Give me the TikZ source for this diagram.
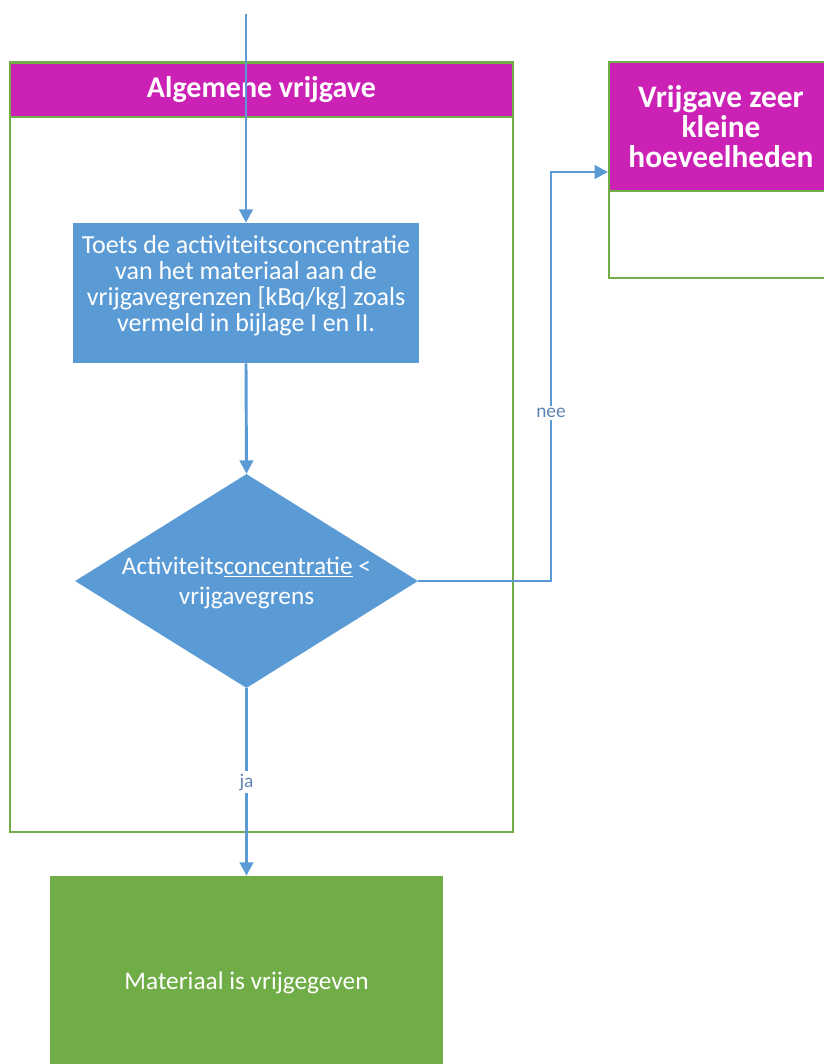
\documentclass[tikz,border=0pt]{standalone}
\usepackage{fontspec}
\setmainfont{Carlito}
\usetikzlibrary{arrows.meta,shapes.geometric}
\definecolor{hdr}{HTML}{CB22B5}
\definecolor{flow}{HTML}{5B9BD5}
\definecolor{okgreen}{HTML}{70AD47}
\definecolor{lbl}{HTML}{5F85B5}
\tikzset{
  frame/.style={draw=okgreen,line width=1.5pt,fill=white,inner sep=0pt},
  header/.style={fill=hdr,draw=okgreen,line width=1.5pt,text=white,font=\bfseries,align=center,inner sep=0pt},
  stepbox/.style={fill=flow,text=white,align=center,inner sep=0pt},
  decide/.style={diamond,fill=flow,inner sep=0pt,aspect=1.6},
  endbox/.style={fill=okgreen,text=white,align=center,inner sep=0pt},
  arr/.style={draw=flow,line width=2.2pt,-{Triangle[width=10pt,length=10pt]}},
  flowlabel/.style={fill=white,text=lbl,inner sep=2pt,font=\fontsize{14.5}{16}\selectfont},
}
\begin{document}
\begin{tikzpicture}[x=0.75pt,y=-0.75pt]
\useasboundingbox (0,0) rectangle (824,1064);

% containers
\node[frame,minimum width=377.25pt,minimum height=577.5pt] (lbody) at (261.5,447) {};
\node[header,minimum width=377.25pt,minimum height=40.5pt,font=\bfseries\fontsize{22.5}{24}\selectfont] (lhead) at (261.5,90) {Algemene vrijgave};
\node[frame,minimum width=168pt,minimum height=162pt] (rbody) at (721,170) {};
\node[header,minimum width=168pt,minimum height=96.75pt] (rhead) at (721,126.5) {};
\node[text=white,font=\bfseries\fontsize{23.5}{22.5}\selectfont,align=center] (rtitle) at (721,127) {Vrijgave zeer\\kleine\\hoeveelheden};

% process step
\node[stepbox,minimum width=259.5pt,minimum height=105pt] (toets) at (246,293) {};
\node[text=white,align=center,font=\fontsize{19.5}{19.5}\selectfont] (toetstxt) at (246,286)
  {Toets de activiteitsconcentratie\\van het materiaal aan de\\vrijgavegrenzen [kBq/kg] zoals\\vermeld in bijlage I en II.};

% decision
\node[decide,minimum width=257.25pt,minimum height=160.5pt] (dec) at (246.5,581) {};
\node[text=white,align=center,font=\fontsize{19}{22.5}\selectfont] (dectxt) at (246.5,583)
  {Activiteits\underline{concentratie} <\\vrijgavegrens};

% result
\node[endbox,minimum width=294.75pt,minimum height=160.5pt,font=\fontsize{19}{22}\selectfont] (vrij) at (246.5,983) {Materiaal is vrijgegeven};

% connectors
\coordinate (start) at (246,14);
\coordinate (bend) at (551,172);
\draw[arr] (start) -- (toets.north);
\draw[arr] (toets.south) -- (dec.north);
\draw[arr] (dec.east) -| (bend) -- (bend -| rhead.west);
\draw[arr] (dec.south) -- (vrij.north);

% connector labels
\node[flowlabel] (nee) at (551,413) {nee};
\node[flowlabel] (ja) at (246.5,782) {ja};
\end{tikzpicture}
\end{document}
